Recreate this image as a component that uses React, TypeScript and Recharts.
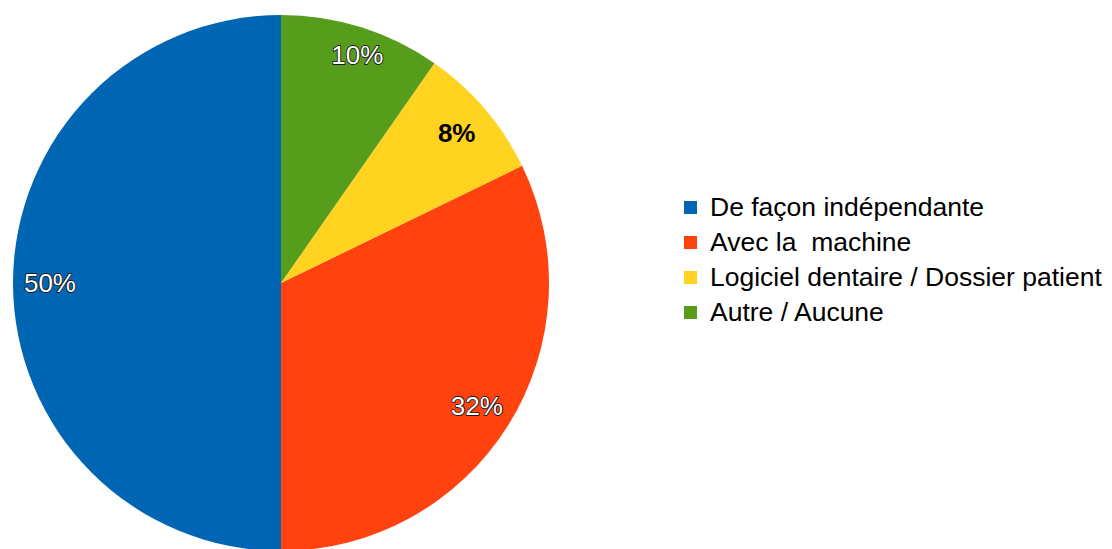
import React from 'react';
import { PieChart, Pie, Cell, Legend } from 'recharts';

const categories = ['De façon indépendante', 'Avec la  machine', 'Logiciel dentaire / Dossier patient', 'Autre / Aucune'];
const values = [50, 32.2, 8.1, 9.7];
const labels = ['50%', '32%', '8%', '10%'];
const colors = ['#0066b3', '#ff420e', '#ffd320', '#579d1c'];

const data = categories.map((name, i) => ({ name, value: values[i], label: labels[i] }));

const RAD = Math.PI / 180;
const FONT = "'Liberation Sans', Arial, sans-serif";

const renderLabel = (props: any) => {
  const { cx, cy, midAngle, outerRadius, index } = props;
  const r = outerRadius * 0.862;
  let x = cx + r * Math.cos(-midAngle * RAD);
  let y = cy + r * Math.sin(-midAngle * RAD);
  if (index === 3) {
    x += 7;
    y -= 8;
  }
  const dark = index === 2;
  return (
    <text
      x={x}
      y={y}
      textAnchor="middle"
      dominantBaseline="central"
      fontFamily={FONT}
      fontSize={26}
      fontWeight={dark ? 'bold' : 'normal'}
      fill={dark ? '#000' : '#fff'}
      stroke={dark ? 'none' : '#1a1a1a'}
      strokeWidth={dark ? 0 : 1.8}
      paintOrder="stroke"
      strokeLinejoin="round"
    >
      {data[index].label}
    </text>
  );
};

const renderLegend = () => (
  <div style={{ fontFamily: FONT, fontSize: 26.5, color: '#000' }}>
    {data.map((d, i) => (
      <div key={d.name} style={{ display: 'flex', alignItems: 'center', height: 35, whiteSpace: 'pre' }}>
        <span style={{ display: 'inline-block', width: 13, height: 13, background: colors[i], marginRight: 13 }} />
        <span>{d.name}</span>
      </div>
    ))}
  </div>
);

export default function App() {
  return (
    <div style={{ position: 'absolute', left: 0, top: 0, width: 1112, height: 549, background: '#fff' }}>
      <PieChart width={1112} height={549} margin={{ top: 0, right: 0, bottom: 0, left: 0 }}>
        <Pie
          data={data}
          dataKey="value"
          nameKey="name"
          cx={281}
          cy={283}
          outerRadius={268}
          startAngle={90}
          endAngle={450}
          stroke="none"
          labelLine={false}
          label={renderLabel}
          isAnimationActive={false}
        >
          {data.map((d, i) => (
            <Cell key={d.name} fill={colors[i]} />
          ))}
        </Pie>
        <Legend
          content={renderLegend}
          layout="vertical"
          wrapperStyle={{ position: 'absolute', left: 684, top: 190, width: 428 }}
        />
      </PieChart>
    </div>
  );
}
